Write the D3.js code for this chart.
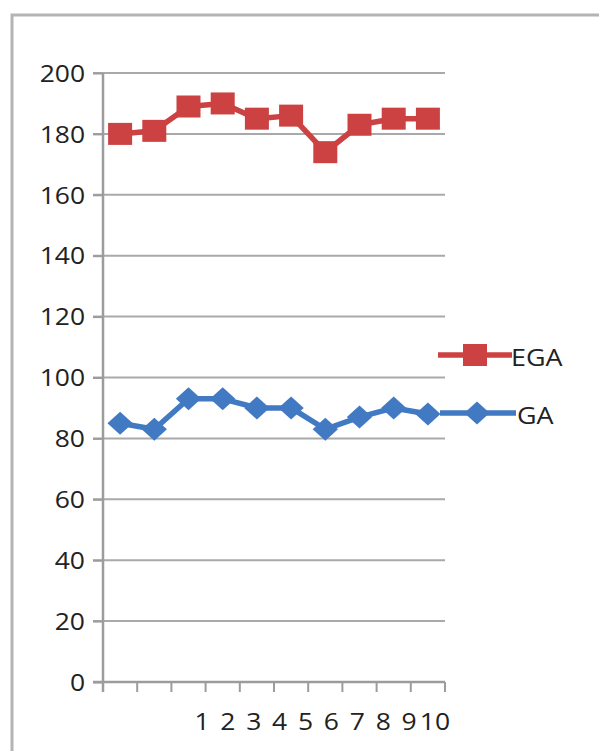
<!DOCTYPE html>
<html>
<head>
<meta charset="utf-8">
<script src="https://cdn.jsdelivr.net/npm/d3@7"></script>
<style>
  html, body { margin: 0; padding: 0; background: #fff; }
  svg { display: block; }
  text { font-family: "Open Sans", Lato, "Liberation Sans", sans-serif; fill: #222; }
</style>
</head>
<body>
<svg id="chart" width="599" height="751"></svg>
<script>
// Category labels along the bottom axis
const xLabels = ["1", "2", "3", "4", "5", "6", "7", "8", "9", "10"];
// Value-axis ticks
const yTicks = [0, 20, 40, 60, 80, 100, 120, 140, 160, 180, 200];
// Series values
const egaValues = [180, 181, 189, 190, 185, 186, 174, 183, 185, 185];
const gaValues = [85, 83, 93, 93, 90, 90, 83, 87, 90, 88];
const seriesNames = ["EGA", "GA"];

const RED = "#cc4141";
const BLUE = "#4279c3";
const GRID = "#a9a9a9";
const AXIS = "#9c9c9c";
const STRETCH = 1.15;   // horizontal widening of tick labels

const svg = d3.select("#chart");

// Frame around the chart area
svg.append("path")
  .attr("d", "M12,751 L12,15 L599,15")
  .attr("fill", "none")
  .attr("stroke", "#b4b4b4")
  .attr("stroke-width", 3);

const plot = { left: 103, right: 445, top: 73, bottom: 682 };

const x = d3.scaleBand().domain(xLabels).range([plot.left, plot.right]).padding(0);
const y = d3.scaleLinear().domain([0, 200]).range([plot.bottom, plot.top]);
// Category labels sit packed to the right under the axis
const labelX = d3.scalePoint().domain(xLabels).range([202, 435]);

// Horizontal gridlines
svg.append("g").selectAll("line")
  .data(yTicks.filter(d => d > 0))
  .join("line")
  .attr("x1", plot.left - 10).attr("x2", plot.right)
  .attr("y1", d => y(d)).attr("y2", d => y(d))
  .attr("stroke", GRID).attr("stroke-width", 2);

// Value axis
const yAxis = svg.append("g")
  .attr("transform", `translate(${plot.left},0)`)
  .call(d3.axisLeft(y).tickValues(yTicks).tickSize(10).tickPadding(8).tickFormat(d3.format("d")));
yAxis.select(".domain").remove();
yAxis.selectAll(".tick line").attr("stroke", AXIS).attr("stroke-width", 2);
yAxis.selectAll(".tick text")
  .attr("class", "tl")
  .style("font-size", "23px")
  .attr("dy", "0.36em");
svg.append("line")
  .attr("x1", plot.left).attr("x2", plot.left)
  .attr("y1", plot.top).attr("y2", plot.bottom + 10)
  .attr("stroke", AXIS).attr("stroke-width", 2.5);

// Category axis with tick marks at band edges
const bounds = xLabels.map(d => x(d) + x.bandwidth());
svg.append("line")
  .attr("x1", plot.left - 10).attr("x2", plot.right)
  .attr("y1", plot.bottom).attr("y2", plot.bottom)
  .attr("stroke", AXIS).attr("stroke-width", 2.5);
svg.append("g").selectAll("line")
  .data(bounds)
  .join("line")
  .attr("x1", d => d).attr("x2", d => d)
  .attr("y1", plot.bottom).attr("y2", plot.bottom + 10)
  .attr("stroke", AXIS).attr("stroke-width", 2);
svg.append("g").selectAll("text")
  .data(xLabels)
  .join("text")
  .attr("class", "tl")
  .attr("x", d => labelX(d))
  .attr("y", 730)
  .attr("text-anchor", "middle")
  .style("font-size", "23px")
  .text(d => d);

// Series lines and markers
const cx = d => x(d) + x.bandwidth() / 2;
const line = d3.line().x((d, i) => cx(xLabels[i])).y(d => y(d));

const diamond = (s) => `M0,${-s} L${s * 1.1},0 L0,${s} L${-s * 1.1},0 Z`;

function drawSeries(values, color, markerKind) {
  const g = svg.append("g");
  g.append("path")
    .datum(values)
    .attr("d", line)
    .attr("fill", "none")
    .attr("stroke", color)
    .attr("stroke-width", 5.5)
    .attr("stroke-linejoin", "round");
  const m = g.selectAll(".m").data(values).join("g")
    .attr("transform", (d, i) => `translate(${cx(xLabels[i])},${y(d)})`);
  addMarker(m, color, markerKind);
}

function addMarker(sel, color, kind) {
  if (kind === "square") {
    sel.append("rect")
      .attr("x", -12).attr("y", -11).attr("width", 24).attr("height", 22)
      .attr("fill", color);
  } else {
    sel.append("path").attr("d", diamond(11.5)).attr("fill", color);
  }
}

drawSeries(gaValues, BLUE, "diamond");
drawSeries(egaValues, RED, "square");

// Legend
const legendRows = [
  { name: seriesNames[0], color: RED, kind: "square", y: 355, x0: 438, x1: 512, mx: 475, tx: 511 },
  { name: seriesNames[1], color: BLUE, kind: "diamond", y: 413, x0: 440, x1: 516, mx: 477, tx: 517 }
];
const lg = svg.append("g").selectAll("g").data(legendRows).join("g");
lg.append("line")
  .attr("x1", d => d.x0).attr("x2", d => d.x1)
  .attr("y1", d => d.y).attr("y2", d => d.y)
  .attr("stroke", d => d.color).attr("stroke-width", 5.5);
lg.each(function (d) {
  const m = d3.select(this).append("g").attr("transform", `translate(${d.mx},${d.y})`);
  addMarker(m, d.color, d.kind);
});
lg.append("text")
  .attr("class", "lt")
  .attr("x", d => d.tx).attr("y", d => d.y + 11)
  .style("font-size", "24px")
  .text(d => d.name);

// Widen labels horizontally
svg.selectAll("text.tl").each(function () {
  const w = this.getComputedTextLength();
  d3.select(this).attr("textLength", w * STRETCH).attr("lengthAdjust", "spacingAndGlyphs");
});
svg.selectAll("text.lt").each(function () {
  const w = this.getComputedTextLength();
  d3.select(this).attr("textLength", w * 1.12).attr("lengthAdjust", "spacingAndGlyphs");
});
</script>
</body>
</html>
